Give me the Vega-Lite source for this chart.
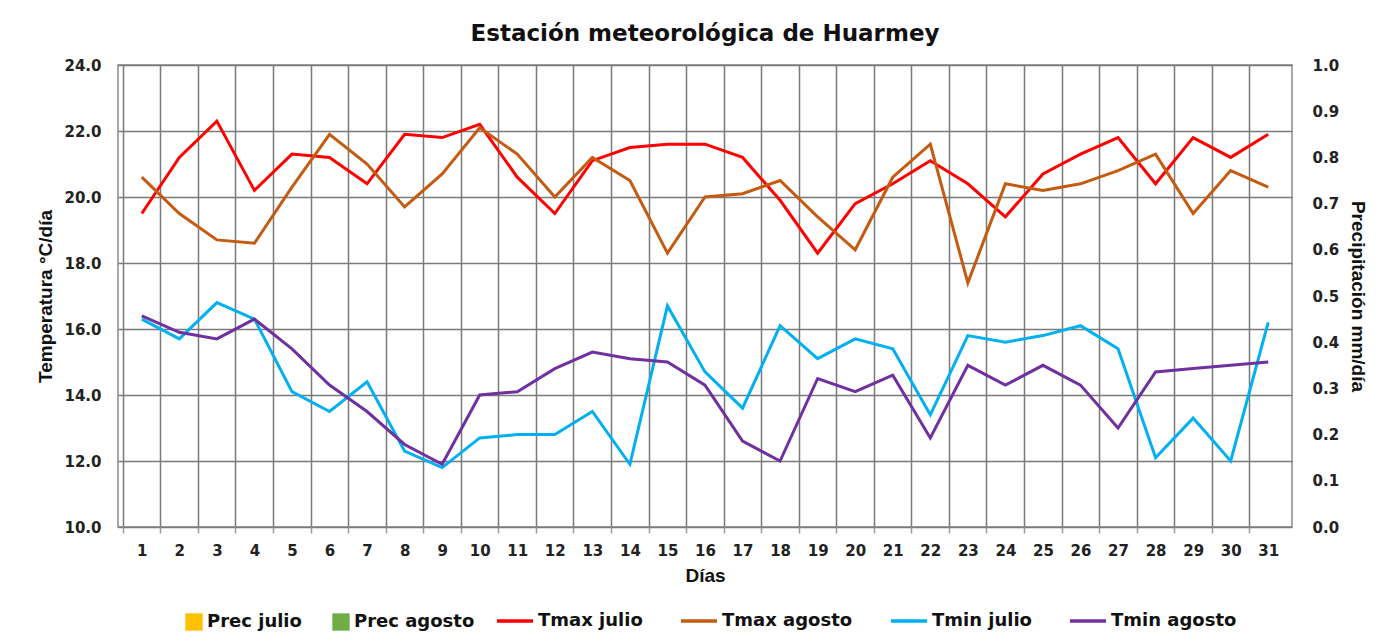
{
  "$schema": "https://vega.github.io/schema/vega-lite/v6.json",
  "autosize": {"type": "none"},
  "width": 1174,
  "height": 462,
  "padding": {"left": 118, "top": 65, "right": 108, "bottom": 116},
  "background": "#ffffff",
  "title": {
    "text": "Estación meteorológica de Huarmey",
    "anchor": "middle",
    "offset": 12,
    "font": "DejaVu Sans",
    "fontSize": 23,
    "fontWeight": "bold",
    "color": "#111111"
  },
  "config": {
    "view": {"stroke": "#8a8a8a", "strokeWidth": 1.5},
    "axis": {
      "labelFont": "DejaVu Sans",
      "labelFontWeight": "bold",
      "labelFontSize": 15,
      "labelColor": "#222222",
      "titleFont": "Liberation Sans",
      "titleFontWeight": "bold",
      "titleFontSize": 19,
      "titleColor": "#111111"
    },
    "legend": {
      "labelFont": "DejaVu Sans",
      "labelFontWeight": "bold",
      "labelFontSize": 18,
      "labelColor": "#111111",
      "layout": {"bottom": {"anchor": "middle", "direction": "horizontal", "margin": 8}}
    }
  },
  "data": {
    "values": [
      {"dia": 1, "Tmax julio": 19.5, "Tmax agosto": 20.6, "Tmin julio": 16.3, "Tmin agosto": 16.4, "Prec julio": 0, "Prec agosto": 0},
      {"dia": 2, "Tmax julio": 21.2, "Tmax agosto": 19.5, "Tmin julio": 15.7, "Tmin agosto": 15.9, "Prec julio": 0, "Prec agosto": 0},
      {"dia": 3, "Tmax julio": 22.3, "Tmax agosto": 18.7, "Tmin julio": 16.8, "Tmin agosto": 15.7, "Prec julio": 0, "Prec agosto": 0},
      {"dia": 4, "Tmax julio": 20.2, "Tmax agosto": 18.6, "Tmin julio": 16.3, "Tmin agosto": 16.3, "Prec julio": 0, "Prec agosto": 0},
      {"dia": 5, "Tmax julio": 21.3, "Tmax agosto": 20.3, "Tmin julio": 14.1, "Tmin agosto": 15.4, "Prec julio": 0, "Prec agosto": 0},
      {"dia": 6, "Tmax julio": 21.2, "Tmax agosto": 21.9, "Tmin julio": 13.5, "Tmin agosto": 14.3, "Prec julio": 0, "Prec agosto": 0},
      {"dia": 7, "Tmax julio": 20.4, "Tmax agosto": 21.0, "Tmin julio": 14.4, "Tmin agosto": 13.5, "Prec julio": 0, "Prec agosto": 0},
      {"dia": 8, "Tmax julio": 21.9, "Tmax agosto": 19.7, "Tmin julio": 12.3, "Tmin agosto": 12.5, "Prec julio": 0, "Prec agosto": 0},
      {"dia": 9, "Tmax julio": 21.8, "Tmax agosto": 20.7, "Tmin julio": 11.8, "Tmin agosto": 11.9, "Prec julio": 0, "Prec agosto": 0},
      {"dia": 10, "Tmax julio": 22.2, "Tmax agosto": 22.1, "Tmin julio": 12.7, "Tmin agosto": 14.0, "Prec julio": 0, "Prec agosto": 0},
      {"dia": 11, "Tmax julio": 20.6, "Tmax agosto": 21.3, "Tmin julio": 12.8, "Tmin agosto": 14.1, "Prec julio": 0, "Prec agosto": 0},
      {"dia": 12, "Tmax julio": 19.5, "Tmax agosto": 20.0, "Tmin julio": 12.8, "Tmin agosto": 14.8, "Prec julio": 0, "Prec agosto": 0},
      {"dia": 13, "Tmax julio": 21.1, "Tmax agosto": 21.2, "Tmin julio": 13.5, "Tmin agosto": 15.3, "Prec julio": 0, "Prec agosto": 0},
      {"dia": 14, "Tmax julio": 21.5, "Tmax agosto": 20.5, "Tmin julio": 11.9, "Tmin agosto": 15.1, "Prec julio": 0, "Prec agosto": 0},
      {"dia": 15, "Tmax julio": 21.6, "Tmax agosto": 18.3, "Tmin julio": 16.7, "Tmin agosto": 15.0, "Prec julio": 0, "Prec agosto": 0},
      {"dia": 16, "Tmax julio": 21.6, "Tmax agosto": 20.0, "Tmin julio": 14.7, "Tmin agosto": 14.3, "Prec julio": 0, "Prec agosto": 0},
      {"dia": 17, "Tmax julio": 21.2, "Tmax agosto": 20.1, "Tmin julio": 13.6, "Tmin agosto": 12.6, "Prec julio": 0, "Prec agosto": 0},
      {"dia": 18, "Tmax julio": 19.9, "Tmax agosto": 20.5, "Tmin julio": 16.1, "Tmin agosto": 12.0, "Prec julio": 0, "Prec agosto": 0},
      {"dia": 19, "Tmax julio": 18.3, "Tmax agosto": 19.4, "Tmin julio": 15.1, "Tmin agosto": 14.5, "Prec julio": 0, "Prec agosto": 0},
      {"dia": 20, "Tmax julio": 19.8, "Tmax agosto": 18.4, "Tmin julio": 15.7, "Tmin agosto": 14.1, "Prec julio": 0, "Prec agosto": 0},
      {"dia": 21, "Tmax julio": 20.4, "Tmax agosto": 20.6, "Tmin julio": 15.4, "Tmin agosto": 14.6, "Prec julio": 0, "Prec agosto": 0},
      {"dia": 22, "Tmax julio": 21.1, "Tmax agosto": 21.6, "Tmin julio": 13.4, "Tmin agosto": 12.7, "Prec julio": 0, "Prec agosto": 0},
      {"dia": 23, "Tmax julio": 20.4, "Tmax agosto": 17.4, "Tmin julio": 15.8, "Tmin agosto": 14.9, "Prec julio": 0, "Prec agosto": 0},
      {"dia": 24, "Tmax julio": 19.4, "Tmax agosto": 20.4, "Tmin julio": 15.6, "Tmin agosto": 14.3, "Prec julio": 0, "Prec agosto": 0},
      {"dia": 25, "Tmax julio": 20.7, "Tmax agosto": 20.2, "Tmin julio": 15.8, "Tmin agosto": 14.9, "Prec julio": 0, "Prec agosto": 0},
      {"dia": 26, "Tmax julio": 21.3, "Tmax agosto": 20.4, "Tmin julio": 16.1, "Tmin agosto": 14.3, "Prec julio": 0, "Prec agosto": 0},
      {"dia": 27, "Tmax julio": 21.8, "Tmax agosto": 20.8, "Tmin julio": 15.4, "Tmin agosto": 13.0, "Prec julio": 0, "Prec agosto": 0},
      {"dia": 28, "Tmax julio": 20.4, "Tmax agosto": 21.3, "Tmin julio": 12.1, "Tmin agosto": 14.7, "Prec julio": 0, "Prec agosto": 0},
      {"dia": 29, "Tmax julio": 21.8, "Tmax agosto": 19.5, "Tmin julio": 13.3, "Tmin agosto": 14.8, "Prec julio": 0, "Prec agosto": 0},
      {"dia": 30, "Tmax julio": 21.2, "Tmax agosto": 20.8, "Tmin julio": 12.0, "Tmin agosto": 14.9, "Prec julio": 0, "Prec agosto": 0},
      {"dia": 31, "Tmax julio": 21.9, "Tmax agosto": 20.3, "Tmin julio": 16.2, "Tmin agosto": 15.0, "Prec julio": 0, "Prec agosto": 0}
    ]
  },
  "encoding": {
    "x": {
      "field": "dia", "type": "quantitative",
      "scale": {"domain": [0.5, 31.5], "nice": false, "zero": false},
      "axis": {
        "title": "Días",
        "values": [1,2,3,4,5,6,7,8,9,10,11,12,13,14,15,16,17,18,19,20,21,22,23,24,25,26,27,28,29,30,31],
        "grid": true,
        "gridColor": "#7a7a7a",
        "gridWidth": 1.5,
        "gridOpacity": 1,
        "tickOffset": -18.94,
        "labelOffset": 18.94,
        "ticks": true,
        "tickSize": 6,
        "tickColor": "#9a9a9a",
        "tickWidth": 1.5,
        "domain": false,
        "labelPadding": 10,
        "titlePadding": 8,
        "labelFlush": false,
        "labelOverlap": false
      }
    }
  },
  "layer": [
    {
      "transform": [{"fold": ["Prec julio", "Prec agosto"], "as": ["serie", "prec"]}],
      "mark": {"type": "bar", "width": 14},
      "encoding": {
        "y": {
          "field": "prec", "type": "quantitative",
          "scale": {"domain": [0, 1], "nice": false},
          "axis": {
            "orient": "right",
            "title": "Precipitación mm/día",
            "values": [0, 0.1, 0.2, 0.3, 0.4, 0.5, 0.6, 0.7, 0.8, 0.9, 1.0],
            "format": ".1f",
            "grid": false,
            "ticks": false,
            "domain": false,
            "labelPadding": 20,
            "titlePadding": 9
          }
        },
        "fill": {
          "field": "serie", "type": "nominal",
          "scale": {"domain": ["Prec julio", "Prec agosto"], "range": ["#FFC000", "#70AD47"]},
          "legend": {
            "orient": "bottom",
            "direction": "horizontal",
            "title": null,
            "offset": 16,
            "padding": 12,
            "columnPadding": 30,
            "symbolType": "square",
            "symbolSize": 300,
            "symbolStrokeWidth": 0,
            "labelOffset": 4
          }
        }
      }
    },
    {
      "transform": [{"fold": ["Tmax julio", "Tmax agosto", "Tmin julio", "Tmin agosto"], "as": ["serie", "temp"]}],
      "mark": {"type": "line", "strokeWidth": 3},
      "encoding": {
        "y": {
          "field": "temp", "type": "quantitative",
          "scale": {"domain": [10, 24], "nice": false, "zero": false},
          "axis": {
            "orient": "left",
            "title": "Temperatura °C/día",
            "values": [10, 12, 14, 16, 18, 20, 22, 24],
            "format": ".1f",
            "grid": true,
            "gridColor": "#7a7a7a",
            "gridWidth": 1.5,
            "gridOpacity": 1,
            "ticks": false,
            "domain": false,
            "labelPadding": 17,
            "titlePadding": 8
          }
        },
        "stroke": {
          "field": "serie", "type": "nominal",
          "scale": {
            "domain": ["Tmax julio", "Tmax agosto", "Tmin julio", "Tmin agosto"],
            "range": ["#FF0000", "#C55A11", "#00B0F0", "#7030A0"]
          },
          "legend": {
            "orient": "bottom",
            "direction": "horizontal",
            "title": null,
            "offset": 16,
            "columnPadding": 30,
            "symbolType": "stroke",
            "symbolSize": 1300,
            "symbolStrokeWidth": 3.5,
            "labelOffset": 3
          }
        }
      }
    }
  ],
  "resolve": {"scale": {"y": "independent"}}
}
